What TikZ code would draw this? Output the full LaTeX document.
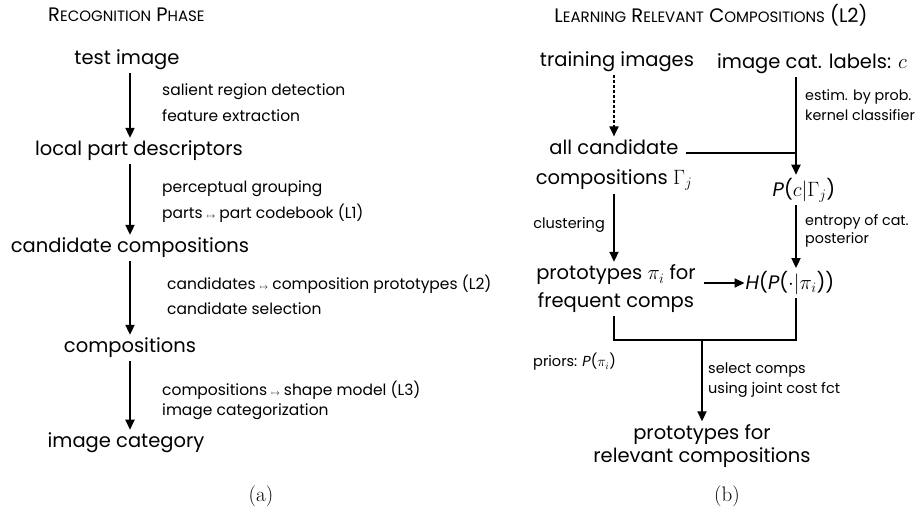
\documentclass[tikz,border=0pt]{standalone}
\usepackage{fontspec}
\newfontfamily\gothic{Poppins}
\usetikzlibrary{arrows.meta,calc}
\newcommand\smcp[1]{{\fontsize{15}{15}\selectfont\MakeUppercase{#1}}}
\begin{document}
\begin{tikzpicture}[x=1pt,y=-1pt,
  main/.style={font=\gothic\fontsize{19.5}{30}\selectfont, inner sep=0pt, align=center},
  lbl/.style={font=\gothic\fontsize{15.5}{24}\selectfont, inner sep=0pt, anchor=west, align=left},
  slbl/.style={font=\gothic\fontsize{14.3}{18}\selectfont, inner sep=0pt, anchor=west, align=left},
  mlbl/.style={font=\gothic\fontsize{14.5}{18}\selectfont, inner sep=0pt, anchor=west, align=left},
  ttl/.style={font=\gothic\fontsize{19.5}{20}\selectfont, inner sep=0pt},
  arr/.style={line width=1.8pt, -{Triangle[width=9pt,length=10pt]}},
  darr/.style={arr, dashed, dash pattern=on 3pt off 2pt},
  ln/.style={line width=1.8pt},
  subcap/.style={inner sep=0pt, font=\fontsize{21}{24}\selectfont}
  ]
\useasboundingbox (0,0) rectangle (919,513);
% ---------- (a) ----------
\node[ttl, anchor=west] (tA) at (48,15) {R\smcp{ecognition} P\smcp{hase}};
\coordinate (ax) at (130,0);
\node[main] (a1) at (127,60) {test image};
\node[main] (a2) at (139,151) {local part descriptors};
\node[main] (a3) at (130,248) {candidate compositions};
\node[main] (a4) at (130,348) {compositions};
\node[main] (a5) at (126,443) {image category};
\draw[arr] ([yshift=-3pt]a1.south -| ax) -- ([yshift=3pt]a2.north -| ax);
\draw[arr] ([yshift=-3pt]a2.south -| ax) -- ([yshift=3pt]a3.north -| ax);
\draw[arr] ([yshift=-3pt]a3.south -| ax) -- ([yshift=3pt]a4.north -| ax);
\draw[arr] ([yshift=-3pt]a4.south -| ax) -- ([yshift=3pt]a5.north -| ax);
\node[lbl] (l1a) at (162,92) {salient region detection};
\node[lbl] (l1b) at (162,116) {feature extraction};
\node[lbl] (l2a) at (162,189) {perceptual grouping};
\node[lbl] (l2b) at (162,213) {parts {\footnotesize$\mapsto$} part codebook (L1)};
\node[lbl] (l3a) at (167,284) {candidates {\footnotesize$\mapsto$} composition prototypes (L2)};
\node[lbl] (l3b) at (167,309) {candidate selection};
\node[lbl] (l4a) at (162,390) {compositions {\footnotesize$\mapsto$} shape model (L3)};
\node[lbl] (l4b) at (162,412) {image categorization};
\node[subcap] (capa) at (261,496) {(a)};
% ---------- (b) ----------
\node[ttl] (tB) at (711,15) {L\smcp{earning} R\smcp{elevant} C\smcp{ompositions} (L2)};
\coordinate (bx) at (614,0);
\coordinate (cx) at (796,0);
\node[main] (b1) at (617,62) {training images};
\node[main] (b2) at (812,64) {image cat. labels: $c$};
\node[main] (b3) at (614,165) {all candidate\\compositions $\Gamma_j$};
\node[main] (b4) at (804,190) {{\itshape P}($c|\Gamma_j$)};
\node[main, font=\gothic\fontsize{19.5}{28}\selectfont] (b5) at (616,289) {prototypes $\pi_i$ for\\frequent comps};
\node[main] (b6) at (790,283) {{\itshape H}({\itshape P}($\cdot|\pi_i$))};
\node[main, font=\gothic\fontsize{19.5}{23}\selectfont] (b7) at (702,446) {prototypes for\\relevant compositions};
\coordinate (j0) at (796,153);
\coordinate (jl) at (614,340);
\coordinate (jm) at (702,340);
\coordinate (jr) at (796,340);
\draw[darr] ([yshift=-3pt]b1.south -| bx) -- ([yshift=3pt]b3.north -| bx);
\draw[arr] ([yshift=-3pt]b2.south -| cx) -- ([yshift=3pt]b4.north -| cx);
\draw[ln] ([xshift=-6pt]b3.east |- j0) -- (j0);
\draw[arr] ([yshift=-3pt]b3.south -| bx) -- ([yshift=3pt]b5.north -| bx);
\draw[arr] ([yshift=-3pt]b4.south -| cx) -- ([yshift=3pt]b6.north -| cx);
\draw[arr] ([xshift=8pt]b5.east |- b6) -- ([xshift=-1pt]b6.west);
\draw[ln] ([yshift=-3pt]b5.south -| bx) -- (jl) -- (jr) -- ([yshift=-3pt]b6.south -| cx);
\draw[arr] (jm) -- ([yshift=3pt]b7.north);
\node[slbl] (m1a) at (805,97) {estim. by prob.};
\node[slbl] (m1b) at (805,115) {kernel classifier};
\node[mlbl, anchor=east] (m2) at (605,225) {clustering};
\node[slbl] (m3a) at (805,222) {entropy of cat.};
\node[slbl] (m3b) at (805,240) {posterior};
\node[mlbl] (m4) at (533,362) {priors: {\itshape P}($\pi_i$)};
\node[mlbl] (m5a) at (708,370) {select comps};
\node[mlbl] (m5b) at (708,390) {using joint cost fct};
\node[subcap] (capb) at (727,496) {(b)};
\end{tikzpicture}
\end{document}
